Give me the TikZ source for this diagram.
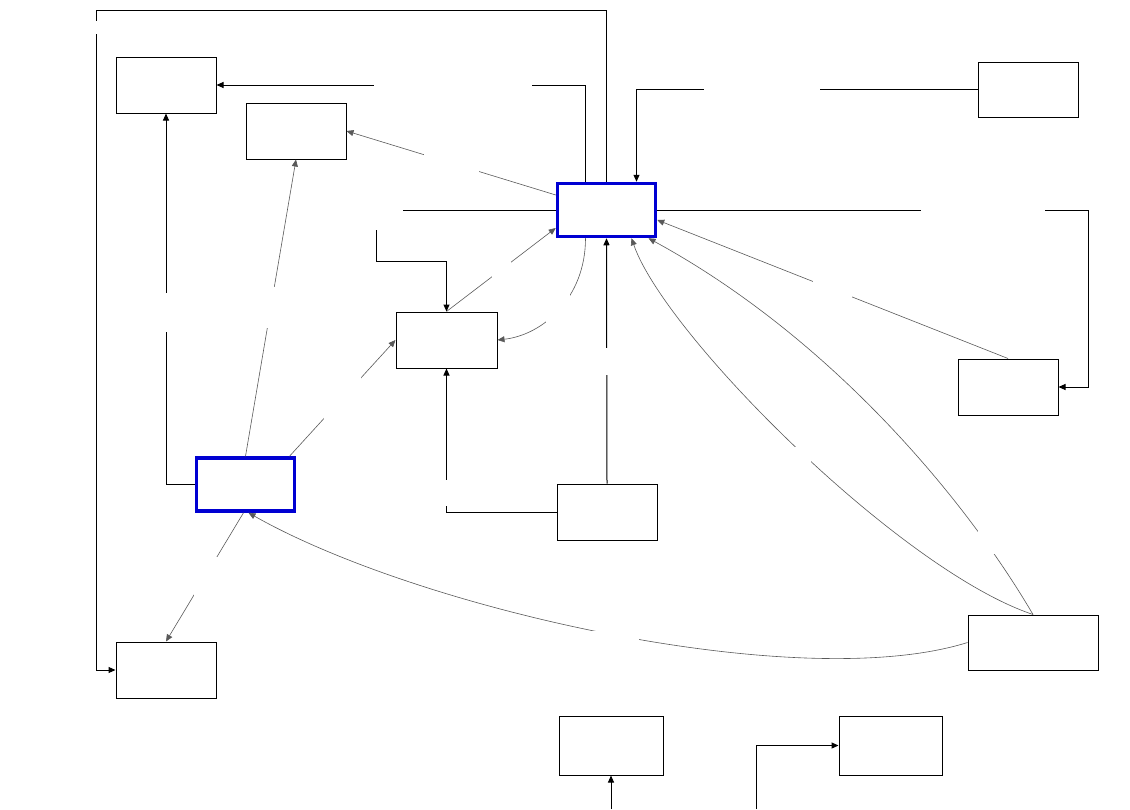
\documentclass[tikz,border=0pt]{standalone}
\usetikzlibrary{arrows.meta}
\definecolor{boxblue}{RGB}{0,0,210}
\tikzset{
  box/.style={draw=black, line width=1pt, fill=white, minimum width=100pt, minimum height=56pt, inner sep=0pt},
  hubbox/.style={box, draw=boxblue, line width=3.5pt, minimum width=98pt, minimum height=53pt},
  flow/.style={draw=black, line width=1pt, -{Triangle[length=7pt,width=6pt]}},
  link/.style={draw=black!65, line width=0.6pt, -{Triangle[length=7pt,width=6pt]}},
  gap/.style={fill=white, inner sep=0pt, outer sep=0pt}
}
\begin{document}
\begin{tikzpicture}[x=1pt, y=-1pt]
\useasboundingbox (0,0) rectangle (1130,809);
% boxes
\node[box] (nA) at (166,85) {};
\node[box] (nB) at (296,131) {};
\node[hubbox] (nC) at (606.5,210) {};
\node[box, minimum height=55pt] (nD) at (1028,89.5) {};
\node[box] (nE) at (1008,387) {};
\node[box, minimum width=101pt] (nF) at (446.5,340) {};
\node[hubbox] (nG) at (245.5,484.5) {};
\node[box] (nH) at (607,512) {};
\node[box, minimum width=130pt, minimum height=55pt] (nI) at (1033,642.5) {};
\node[box] (nJ) at (166,670) {};
\node[box, minimum width=104pt, minimum height=59pt] (nK) at (611,745.5) {};
\node[box, minimum width=103pt, minimum height=59pt] (nL) at (890.5,745.5) {};
\coordinate (inK) at (611,809);
\coordinate (inL) at (756,809);
% straight connectors
\draw[flow] (nC.north) |- (96,10) |- (nJ.west);
\draw[flow] ([xshift=-21pt]nC.north) |- (nA.east);
\draw[flow] (nD.west) -| ([xshift=30pt]nC.north);
\draw[flow] (nC.east) -| (1088,387) -- (nE.east);
\draw[flow] (nC.west) -| (376,261) -| (nF.north);
\draw[flow] (nH.west) -| (nF.south);
\draw[flow] (nH.north) -- (nC.south);
\draw[flow] (nG.west) -| (nA.south);
\draw[flow] (inK) -- (nK.south);
\draw[flow] (inL) |- (nL.west);
% thin connectors
\draw[link] ([yshift=15pt]nC.west) -- (nB.east);
\draw[link] (nG.north) -- (nB.south);
\draw[link] ([xshift=44pt]nG.north) -- (nF.west);
\draw[link] (nF.north) -- ([yshift=-18pt]nC.west);
\draw[link] ([xshift=-21pt]nC.south) .. controls +(0,60) and +(45,-5) .. (nF.east);
\draw[link] (nE.north) -- ([yshift=-10pt]nC.east);
\draw[link] (nI.north) .. controls (963,495) and (828,336) .. ([xshift=42pt]nC.south);
\draw[link] (nI.north) .. controls (900,570) and (665,335) .. ([xshift=25pt]nC.south);
\draw[link] (nI.west) .. controls (800,695) and (420,610) .. ([xshift=3pt]nG.south);
\draw[link] ([xshift=-2pt]nG.south) -- (nJ.north);
% label gaps
\node[gap, minimum width=6pt, minimum height=13pt] (l1) at (96,27) {};
\node[gap, minimum width=158pt, minimum height=8pt] (l2) at (453,85) {};
\node[gap, minimum width=116pt, minimum height=8pt] (l3) at (762,89) {};
\node[gap, minimum width=124pt, minimum height=8pt] (l4) at (983,210) {};
\node[gap, minimum width=29pt, minimum height=24pt] (l5) at (388.5,218) {};
\node[gap, minimum width=8pt, minimum height=26pt] (l6) at (446,493) {};
\node[gap, minimum width=8pt, minimum height=27pt] (l7) at (607,361.5) {};
\node[gap, minimum width=8pt, minimum height=39pt] (l8) at (166,312.5) {};
\node[gap, minimum width=55pt, minimum height=20pt] (l9) at (451.5,163.5) {};
\node[gap, minimum width=10pt, minimum height=41pt] (l10) at (271,307.5) {};
\node[gap, minimum width=37pt, minimum height=44pt] (l11) at (342.5,398) {};
\node[gap, minimum width=19pt, minimum height=20pt] (l12) at (501.5,269.5) {};
\node[gap, minimum width=24pt, minimum height=32pt] (l13) at (557.5,307.5) {};
\node[gap, minimum width=39pt, minimum height=24pt] (l14) at (832.5,289.5) {};
\node[gap, minimum width=19pt, minimum height=28pt] (l15) at (987.5,540) {};
\node[gap, minimum width=18pt, minimum height=18pt] (l16) at (802,456) {};
\node[gap, minimum width=55pt, minimum height=18pt] (l17) at (611.5,639.5) {};
\node[gap, minimum width=24pt, minimum height=40pt] (l18) at (206,577) {};
\end{tikzpicture}
\end{document}
